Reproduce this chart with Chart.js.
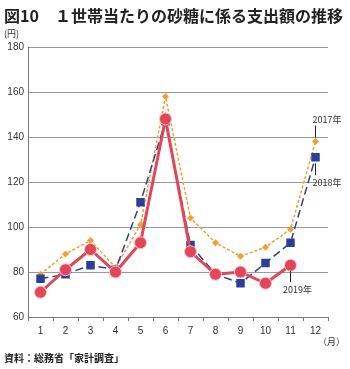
<!DOCTYPE html>
<html>
<head>
<meta charset="utf-8">
<script src="https://cdn.jsdelivr.net/npm/chart.js@4/dist/chart.umd.min.js"></script>
<style>
  html, body { margin: 0; padding: 0; background: #fff; }
  #wrap { width: 350px; height: 369px; position: relative; }
</style>
</head>
<body>
<div id="wrap"><canvas id="grafico"></canvas></div>
<script>
const meses = ["1", "2", "3", "4", "5", "6", "7", "8", "9", "10", "11", "12"];
const gasto2017 = [79, 88, 94, 82, 101, 158, 104, 93, 87, 91, 99, 138];
const gasto2018 = [77, 79, 83, 81, 111, 147, 92, 79, 75, 84, 93, 131];
const gasto2019 = [71, 81, 90, 80, 93, 148, 89, 79, 80, 75, 83, null];
const anos = ["2017年", "2018年", "2019年"];

const fonteJP = '"Noto Sans CJK JP", sans-serif';
const fonteNum = '"Liberation Sans", Arial, sans-serif';

// textos e linhas de chamada
const textos = {
    id: 'textos',
    afterDraw(chart) {
        const c = chart.ctx;
        const x = chart.scales.x, y = chart.scales.y;
        c.save();
        c.fillStyle = '#222';
        c.textBaseline = 'middle';
        c.font = 'bold 16px ' + fonteJP;
        c.fillText('図10　１世帯当たりの砂糖に係る支出額の推移', 4, 16);
        c.font = '9px ' + fonteJP;
        c.fillStyle = '#333';
        c.fillText('(円)', 4, 34);
        c.fillText('（月）', 318, 342);
        c.font = 'bold 10px ' + fonteJP;
        c.fillStyle = '#222';
        c.fillText('資料：総務省「家計調査」', 4, 358);

        c.strokeStyle = '#222';
        c.lineWidth = 1;
        c.font = '9px ' + fonteJP;
        c.fillStyle = '#333';
        c.textAlign = 'left';
        let px = x.getPixelForValue(11);
        let py = y.getPixelForValue(gasto2017[11]);
        c.beginPath(); c.moveTo(px, py - 16); c.lineTo(px, py - 4); c.stroke();
        c.fillText(anos[0], px - 3, py - 22);
        py = y.getPixelForValue(gasto2018[11]);
        c.beginPath(); c.moveTo(px, py + 6); c.lineTo(px, py + 18); c.stroke();
        c.fillText(anos[1], px - 3, py + 25);
        c.textAlign = 'center';
        px = x.getPixelForValue(10);
        py = y.getPixelForValue(gasto2019[10]);
        c.beginPath(); c.moveTo(px, py + 6); c.lineTo(px, py + 17); c.stroke();
        c.fillText(anos[2], px + 7, py + 24);
        c.restore();
    }
};

let ctx = document.getElementById("grafico").getContext("2d");

new Chart(ctx, {
    type: "line",
    data: {
        labels: meses,
        datasets: [{
            label: anos[2],
            data: gasto2019,
            borderColor: "#e24658",
            borderWidth: 3,
            pointRadius: 6,
            pointBackgroundColor: "#e24658",
            pointBorderColor: "#f7c5cb",
            pointBorderWidth: 1,
            tension: 0,
            order: 1
        }, {
            label: anos[1],
            data: gasto2018,
            borderColor: "#2b3f98",
            borderWidth: 1.5,
            borderDash: [8, 4],
            pointStyle: 'rect',
            pointRadius: 6,
            pointBackgroundColor: "#2b3f98",
            pointBorderColor: "#2b3f98",
            pointBorderWidth: 0,
            tension: 0,
            order: 2
        }, {
            label: anos[0],
            data: gasto2017,
            borderColor: "#f0a030",
            borderWidth: 1.5,
            borderDash: [3, 2],
            pointStyle: 'rectRot',
            pointRadius: 3.5,
            pointBackgroundColor: "#f0a030",
            pointBorderColor: "#f0a030",
            pointBorderWidth: 0,
            tension: 0,
            order: 3
        }]
    },
    options: {
        responsive: true,
        maintainAspectRatio: false,
        animation: false,
        layout: { padding: { left: 0, top: 47, right: 22, bottom: 28 } },
        plugins: {
            legend: { display: false },
            tooltip: { enabled: false }
        },
        scales: {
            y: {
                min: 60,
                max: 180,
                ticks: {
                    stepSize: 20,
                    padding: 4,
                    color: '#333',
                    font: { size: 10, family: fonteNum }
                },
                grid: {
                    color: '#9a9a9a',
                    lineWidth: 1,
                    drawTicks: false
                },
                border: { color: '#777', width: 1 },
                afterFit(s) { s.width = 28; }
            },
            x: {
                offset: true,
                ticks: {
                    padding: 4,
                    color: '#333',
                    font: { size: 10, family: fonteNum }
                },
                grid: {
                    display: true,
                    offset: true,
                    drawOnChartArea: false,
                    drawTicks: true,
                    tickLength: 4,
                    color: '#777'
                },
                border: { color: '#777', width: 1 }
            }
        }
    },
    plugins: [textos]
});
</script>
</body>
</html>
